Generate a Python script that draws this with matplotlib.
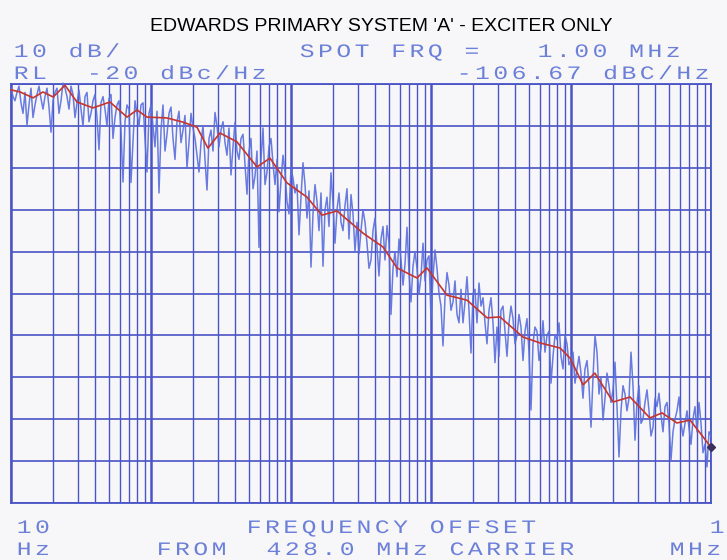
import numpy as np
import matplotlib
matplotlib.use("Agg")
import matplotlib.pyplot as plt
from matplotlib.patheffects import AbstractPathEffect
from matplotlib.path import Path
from matplotlib.ticker import LogLocator, MultipleLocator, NullFormatter

# ---------------------------------------------------------------- data
title = "EDWARDS PRIMARY SYSTEM 'A' - EXCITER ONLY"
scale_label = "10 dB/"
ref_level_dbc = -20
spot_freq_hz = 1.0e6
spot_dbc = -106.67
carrier_mhz = 428.0

# averaged (smoothed) single-sideband phase noise
avg_freq_hz = [10, 11.6, 14.4, 16.9, 20.0, 24.3, 29.6, 38.5, 50.9, 67.4, 79.4,
               93.6, 130, 169, 213, 255, 311, 411, 572, 708, 936, 1300, 1665,
               2130, 3270, 4540, 5720, 7940, 9360, 13000, 18100, 25100, 31100,
               45400, 60100, 83400, 98400, 122000, 148000, 200000, 264000,
               366000, 447000, 571000, 708000, 1.0e6]
avg_dbc = [-21.4, -21.9, -23.3, -21.9, -23.1, -20.3, -24.3, -25.7, -24.3,
           -27.9, -26.2, -27.9, -28.1, -29.1, -30.3, -35.3, -31.7, -33.8,
           -39.8, -37.7, -43.6, -47.0, -51.3, -50.3, -55.6, -58.9, -63.9,
           -66.3, -63.9, -70.4, -71.6, -75.8, -75.6, -80.4, -81.8, -83.0,
           -85.4, -91.8, -89.0, -95.9, -94.7, -99.7, -98.5, -100.9, -100.2,
           spot_dbc]

# raw sweep readings, log-spaced from 10 Hz to 1 MHz
raw_dbc = [
    -21, -23, -24, -22, -20.5, -24.5, -27, -22, -29.8, -25,
    -21, -28, -25, -22.5, -20.5, -23.5, -26, -23, -21, -25.5,
    -31.5, -24, -22, -21, -27, -24, -19.8, -21, -23, -26,
    -20.5, -22.5, -28, -24.5, -21.5, -26, -30, -23, -22, -29,
    -27, -24, -22.5, -28, -35.7, -24.5, -23, -26, -30, -23.5,
    -22.5, -33, -28, -25, -24, -31, -43.4, -29, -25, -26,
    -43.5, -34, -24, -27, -30, -25, -24.5, -33, -41, -27,
    -25, -30, -35, -26.5, -46, -31, -25, -36, -32, -27,
    -25.5, -33, -38, -29, -26.5, -34, -31, -27.5, -40, -34,
    -27, -30.5, -33, -37, -41, -34, -30, -38, -45.3, -33,
    -31, -36, -26.8, -30, -35, -31, -29, -34, -37, -30.5,
    -41.7, -35, -29.2, -36, -38, -33, -32, -39, -46.3, -36,
    -33, -45, -42, -36, -59, -38, -30.5, -44, -41, -35,
    -33, -39, -44, -38, -50.5, -43, -37, -41, -48, -51,
    -40, -42.5, -46, -44, -56, -47, -38.8, -44, -52, -45.5,
    -63.7, -51, -44, -48, -55, -46, -63.5, -50, -47, -54,
    -41.2, -48.5, -58, -50, -46, -53, -55, -49, -45, -57,
    -46.4, -51, -60, -53, -60.5, -55, -50, -53, -58, -64,
    -62, -55, -52, -59, -65.8, -57, -54, -62, -53.8, -58,
    -75, -64, -60, -66, -57, -62, -68, -63, -54.2, -65,
    -72, -63.5, -60, -64, -70, -66, -58, -67, -62, -61,
    -76, -66, -59.6, -64, -70, -73, -82.5, -71, -65, -68,
    -74, -72, -67, -75, -77, -69, -77, -72, -66, -74,
    -84.2, -70, -69, -77, -67.5, -73, -71, -77, -82, -74,
    -71, -77, -86.5, -78, -85, -74, -73, -79, -85, -77,
    -73, -76, -82, -80, -75, -78, -86, -79, -76, -84,
    -97.8, -82, -78, -79, -86, -83, -76.5, -84, -80, -79,
    -91.4, -85, -80, -81, -77, -85, -88, -80, -82, -87,
    -86, -84, -91.4, -88, -85, -89, -95, -88, -86, -92,
    -101.9, -90, -80, -84, -94, -90, -100.2, -95, -89, -92,
    -96, -93, -86.4, -97, -109, -98, -92, -94, -98, -95,
    -84, -92, -105, -96, -92, -101, -100, -96, -93, -98,
    -104, -102, -95, -97, -93.8, -99, -103, -97, -96, -101,
    -109.7, -103, -100, -98, -94.7, -101, -104, -101, -98, -102,
    -106, -100, -97, -103, -96, -101, -108, -106, -111.4, -103,
    -104,
]
raw_freq_hz = np.logspace(1, 6, len(raw_dbc))

# ---------------------------------------------------------------- style
W, H = 727, 560
GRID = "#4a54c6"
PEN = "#6d80d9"
RAW = "#5a6edc"
AVG = "#c8352c"
PAPER = "#f7f7f9"


class PlotterPitch(AbstractPathEffect):
    """Spread monospace glyphs to a wide fixed pitch, like a pen plotter."""

    def __init__(self, advance, pitch, widen=1.0):
        super().__init__()
        self.advance = advance
        self.pitch = pitch
        self.widen = widen

    def draw_path(self, renderer, gc, tpath, affine, rgbFace=None):
        verts = np.array(tpath.vertices, dtype=float)
        codes = tpath.codes
        if codes is not None and len(verts):
            starts = list(np.flatnonzero(codes == Path.MOVETO)) + [len(verts)]
            for a, b in zip(starts[:-1], starts[1:]):
                sel = codes[a:b] != Path.CLOSEPOLY
                xs = verts[a:b, 0][sel]
                if len(xs) == 0:
                    continue
                mid = 0.5 * (xs.min() + xs.max())
                cell = np.floor(mid / self.advance)
                local = verts[a:b, 0] - cell * self.advance - self.advance / 2
                verts[a:b, 0] = cell * self.pitch + self.pitch / 2 + local * self.widen
        renderer.draw_path(gc, Path(verts, codes), affine, rgbFace)


PEN_PX = 19.0          # font size in pixels
PITCH_PX = 18.3        # character pitch in pixels
pen_effect = PlotterPitch(advance=60.0, pitch=100.0 * PITCH_PX / PEN_PX, widen=1.3)

fig = plt.figure(figsize=(W / 100, H / 100), dpi=100, facecolor=PAPER)


def pen_text(x_px, base_px, s):
    fig.text(x_px / W, 1 - base_px / H, s, ha="left", va="baseline",
             family=["Liberation Mono", "DejaVu Sans Mono"],
             fontsize=PEN_PX * 72 / 100, color=PEN, path_effects=[pen_effect])


ax = fig.add_axes([11 / W, (H - 503) / H, 700 / W, 419 / H])
ax.set_facecolor("none")
ax.set_xscale("log")
ax.set_xlim(10, 1e6)
ax.set_ylim(ref_level_dbc - 100, ref_level_dbc)

ax.xaxis.set_major_locator(LogLocator(base=10, numticks=10))
ax.xaxis.set_minor_locator(LogLocator(base=10, subs=np.arange(2, 10), numticks=100))
ax.yaxis.set_major_locator(MultipleLocator(10))
ax.xaxis.set_major_formatter(NullFormatter())
ax.xaxis.set_minor_formatter(NullFormatter())
ax.yaxis.set_major_formatter(NullFormatter())
ax.tick_params(which="both", length=0)
ax.grid(True, which="major", axis="x", color=GRID, lw=1.8)
ax.grid(True, which="minor", axis="x", color=GRID, lw=1.0)
ax.grid(True, which="major", axis="y", color=GRID, lw=1.2)
ax.set_axisbelow(True)
for sp in ax.spines.values():
    sp.set_color(GRID)
    sp.set_linewidth(1.3)

ax.plot(raw_freq_hz, raw_dbc, color=RAW, lw=1.1, alpha=0.9, clip_on=False, zorder=3)
ax.plot(avg_freq_hz, avg_dbc, color=AVG, lw=1.2, clip_on=False, zorder=4)
ax.plot([spot_freq_hz], [spot_dbc], marker="D", ms=4.5, color="#3b2f5e",
        clip_on=False, zorder=5)

# ---------------------------------------------------------------- text
fig.text(381 / W, 1 - 31 / H, title, ha="center", va="baseline",
         family=["Liberation Sans", "DejaVu Sans"], fontsize=14, color="black")

pen_text(12, 57, scale_label)
pen_text(298, 57, f"SPOT FRQ =   {spot_freq_hz / 1e6:.2f} MHz")
pen_text(12, 79, f"RL  {ref_level_dbc} dBc/Hz")
pen_text(455, 79, f"{spot_dbc:.2f} dBC/Hz")

pen_text(15, 533, "10")
pen_text(15, 555, "Hz")
pen_text(245, 533, "FREQUENCY OFFSET")
pen_text(155, 555, f"FROM  {carrier_mhz:.1f} MHz CARRIER")
pen_text(708, 533, "1")
pen_text(668, 555, "MHz")

fig.savefig("out.png", dpi=100, facecolor=PAPER)
